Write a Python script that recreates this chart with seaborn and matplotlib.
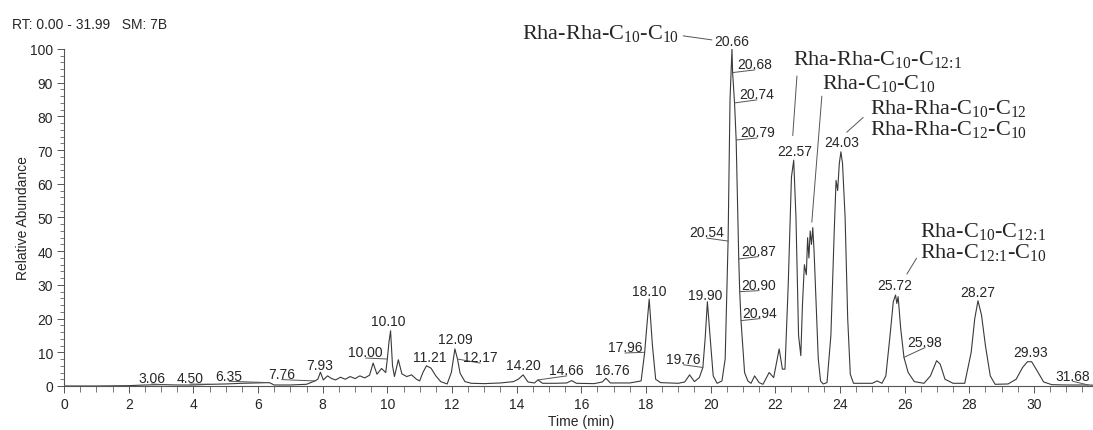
import matplotlib
matplotlib.use("Agg")
import matplotlib.pyplot as plt
from matplotlib.ticker import MultipleLocator
import numpy as np
import pandas as pd
import seaborn as sns

# chromatogram trace: time (min) / relative abundance (%)
rt = [0.00, 1.00, 2.00, 2.50, 3.06, 3.50, 4.00, 4.50, 5.00, 5.50, 6.00, 6.35, 6.50,
      7.00, 7.50, 7.76, 7.85, 7.93, 8.02, 8.15, 8.28, 8.40, 8.55, 8.70, 8.85, 9.00,
      9.15, 9.30, 9.45, 9.56, 9.68, 9.82, 9.95, 10.00, 10.05, 10.10, 10.16, 10.22,
      10.34, 10.45, 10.60, 10.75, 10.90, 11.00, 11.10, 11.21, 11.35, 11.50, 11.65,
      11.85, 11.98, 12.09, 12.17, 12.25, 12.40, 12.60, 13.00, 13.50, 13.90, 14.05,
      14.20, 14.35, 14.55, 14.66, 14.80, 15.20, 15.55, 15.70, 15.85, 16.40, 16.65,
      16.76, 16.90, 17.50, 17.85, 17.96, 18.02, 18.10, 18.20, 18.30, 18.45, 19.00,
      19.20, 19.35, 19.50, 19.65, 19.76, 19.83, 19.90, 19.98, 20.08, 20.20, 20.35,
      20.45, 20.54, 20.60, 20.66, 20.68, 20.74, 20.79, 20.84, 20.87, 20.90, 20.94,
      21.05, 21.15, 21.25, 21.36, 21.50, 21.62, 21.81, 21.95, 22.12, 22.22, 22.30,
      22.40, 22.50, 22.57, 22.64, 22.72, 22.79, 22.84, 22.90, 22.96, 23.00, 23.04,
      23.08, 23.12, 23.16, 23.20, 23.26, 23.33, 23.40, 23.48, 23.60, 23.72, 23.82,
      23.88, 23.93, 23.98, 24.03, 24.08, 24.16, 24.24, 24.32, 24.42, 25.00, 25.15,
      25.30, 25.42, 25.55, 25.65, 25.72, 25.76, 25.80, 25.88, 25.98, 26.11, 26.30,
      26.60, 26.80, 26.99, 27.10, 27.25, 27.50, 27.86, 28.06, 28.17, 28.27, 28.38,
      28.50, 28.65, 28.80, 29.20, 29.45, 29.65, 29.80, 29.93, 30.10, 30.30, 30.55,
      31.00, 31.68, 31.99]
abundance = [0.0, 0.0, 0.1, 0.3, 0.4, 0.3, 0.3, 0.5, 0.6, 0.8, 0.9, 1.0, 0.3,
             0.3, 0.5, 1.5, 2.0, 4.1, 1.8, 3.0, 2.2, 1.8, 2.6, 2.0, 2.8, 2.2,
             3.0, 2.4, 3.2, 6.8, 3.5, 5.2, 4.0, 8.0, 13.0, 16.4, 6.0, 2.8,
             7.8, 3.6, 2.8, 3.3, 2.0, 1.5, 4.0, 6.0, 5.3, 3.0, 1.3,
             0.6, 4.0, 11.0, 8.0, 3.8, 1.3, 0.8, 0.7, 0.9, 1.3, 2.0,
             3.3, 1.2, 0.9, 1.8, 0.8, 0.8, 0.9, 1.6, 0.8, 0.7, 1.2,
             2.3, 0.9, 0.9, 1.5, 10.0, 17.0, 25.8, 12.0, 2.0, 1.0, 0.8,
             1.2, 3.3, 1.3, 2.5, 5.5, 14.0, 25.0, 15.0, 3.0, 0.8, 1.5,
             8.0, 43.0, 85.0, 100.0, 93.0, 84.0, 73.0, 50.0, 37.7, 28.0, 19.4,
             4.0, 1.5, 0.8, 3.0, 1.0, 0.5, 4.0, 2.5, 11.0, 5.0, 5.0,
             30.0, 62.0, 67.0, 50.0, 15.0, 9.0, 24.0, 36.0, 33.0, 44.0, 38.0,
             46.0, 42.0, 47.0, 40.0, 25.0, 8.0, 1.5, 0.6, 1.0, 15.0, 45.0,
             61.0, 58.0, 66.0, 69.5, 66.0, 50.0, 20.0, 3.5, 0.8, 0.8, 1.5,
             0.8, 3.0, 15.0, 25.0, 27.0, 24.5, 26.5, 17.0, 8.5, 4.0, 1.3,
             0.8, 3.0, 7.5, 6.5, 2.0, 0.8, 0.8, 10.0, 20.0, 25.3, 21.0,
             12.0, 3.0, 0.5, 0.6, 2.0, 5.5, 7.2, 7.2, 4.5, 1.2, 0.4,
             0.3, 0.3, 0.2]

# labelled retention times and where their labels sit
peak_rt = [3.06, 4.50, 6.35, 7.76, 7.93, 10.00, 10.10, 11.21, 12.09, 12.17, 14.20,
           14.66, 16.76, 17.96, 18.10, 19.76, 19.90, 20.54, 20.66, 20.68, 20.74,
           20.79, 20.87, 20.90, 20.94, 22.57, 24.03, 25.72, 25.98, 28.27, 29.93, 31.68]
label_x = [2.71, 3.90, 5.11, 6.73, 7.92, 9.33, 10.02, 11.32, 12.09, 12.87, 14.21,
           15.55, 16.97, 17.35, 18.10, 19.16, 19.83, 19.88, 20.65, 21.37, 21.43,
           21.44, 21.48, 21.50, 21.53, 22.59, 24.05, 25.70, 26.63, 28.26, 29.91, 31.20]
label_y = [2.3, 2.3, 3.1, 3.6, 6.2, 10.0, 19.3, 8.5, 13.9, 8.5, 6.2,
           4.7, 4.7, 11.5, 28.1, 8.0, 27.1, 45.6, 102.5, 95.5, 86.6,
           75.3, 40.1, 30.0, 21.7, 69.8, 72.3, 30.1, 13.1, 28.0, 10.0, 3.1]

# compound names with (text pos) and pointer (start -> end)
compounds = [
    "Rha-Rha-C$_{\\mathrm{10}}$-C$_{\\mathrm{10}}$",
    "Rha-Rha-C$_{\\mathrm{10}}$-C$_{\\mathrm{12\\!:\\!1}}$",
    "Rha-C$_{\\mathrm{10}}$-C$_{\\mathrm{10}}$",
    "Rha-Rha-C$_{\\mathrm{10}}$-C$_{\\mathrm{12}}$\nRha-Rha-C$_{\\mathrm{12}}$-C$_{\\mathrm{10}}$",
    "Rha-C$_{\\mathrm{10}}$-C$_{\\mathrm{12\\!:\\!1}}$\nRha-C$_{\\mathrm{12\\!:\\!1}}$-C$_{\\mathrm{10}}$",
]
compound_xy = [(14.16, 105.0), (22.56, 97.2), (23.44, 90.1), (24.93, 79.4), (26.48, 43.0)]
pointer_from = [(19.15, 103.9), (22.67, 92.0), (23.44, 86.0), (24.72, 79.7), (26.37, 37.9)]
pointer_to = [(20.04, 102.7), (22.54, 74.3), (23.13, 48.6), (24.21, 75.3), (26.07, 33.2)]

df = pd.DataFrame({"Time (min)": rt, "Relative Abundance": abundance})

sns.set_style("ticks")
plt.rcParams["font.family"] = ["Liberation Sans", "DejaVu Sans"]
plt.rcParams["mathtext.fontset"] = "custom"
plt.rcParams["mathtext.rm"] = "Liberation Serif"
plt.rcParams["mathtext.it"] = "Liberation Serif:italic"

fig = plt.figure(figsize=(10.93, 4.31), dpi=100)
ax = fig.add_axes([0.0586, 0.1021, 0.9462, 0.7819])
sns.lineplot(data=df, x="Time (min)", y="Relative Abundance", ax=ax,
             color="#3a3a3a", lw=0.8, estimator=None)

ax.set_xlim(0, 31.99)
ax.set_ylim(0, 100)
ax.xaxis.set_major_locator(MultipleLocator(2))
ax.xaxis.set_minor_locator(MultipleLocator(0.5))
ax.yaxis.set_major_locator(MultipleLocator(10))
ax.yaxis.set_minor_locator(MultipleLocator(2))
ax.tick_params(which="major", length=5, width=0.7, color="#555555", labelsize=10, pad=3)
ax.tick_params(which="minor", length=4, width=0.7, color="#777777")
ax.tick_params(axis="y", which="minor", length=3)
for s in ["top", "right"]:
    ax.spines[s].set_visible(False)
for s in ["left", "bottom"]:
    ax.spines[s].set_color("#555555")
    ax.spines[s].set_linewidth(0.8)
ax.set_xlabel("Time (min)", fontsize=10, labelpad=2)
ax.set_ylabel("Relative Abundance", fontsize=10, labelpad=0)

# peak retention-time labels, displaced ones get a thin leader under the text
for p, lx, ly in zip(peak_rt, label_x, label_y):
    if abs(lx - p) > 0.3:
        anchor_y = float(np.interp(p, rt, abundance))
        ax.plot([lx, p], [ly - 1.7, anchor_y], color="#555555", lw=0.7, clip_on=False)
    ax.text(lx, ly, f"{p:.2f}", ha="center", va="center", fontsize=10, clip_on=False)

# compound annotations
for name, (tx, ty), a, b in zip(compounds, compound_xy, pointer_from, pointer_to):
    ax.text(tx, ty, name, ha="left", va="center", fontsize=16,
            family="Liberation Serif", linespacing=1.0, clip_on=False)
    ax.plot([a[0], b[0]], [a[1], b[1]], color="#555555", lw=0.7, clip_on=False)

fig.text(12 / 1093, 1 - 25 / 431, "RT: 0.00 - 31.99   SM: 7B", ha="left", va="center",
         fontsize=10)

fig.savefig("out.png", dpi=100)
